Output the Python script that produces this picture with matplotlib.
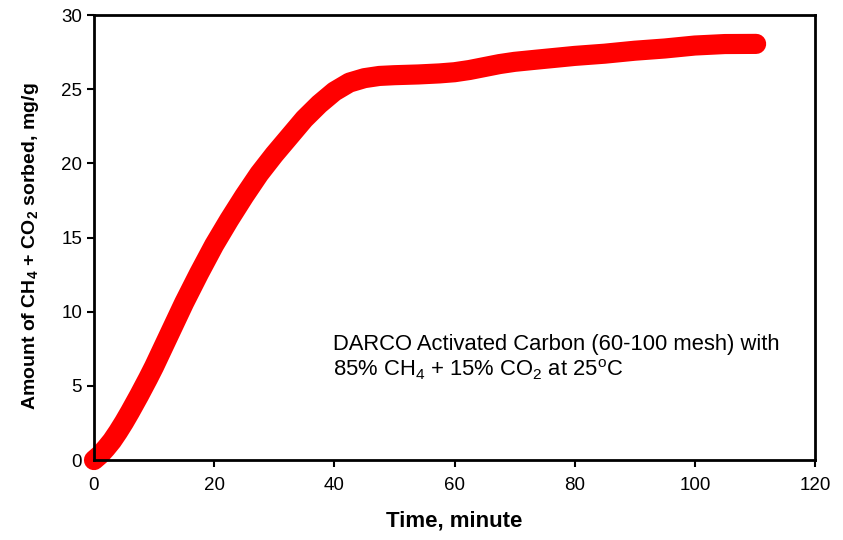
import matplotlib
matplotlib.use('Agg')
import matplotlib.pyplot as plt

# sorption uptake
time_min = [0, 1, 2, 3, 4, 5, 6, 7.5, 9, 10, 12.5, 15, 17.5, 20, 22.5, 25, 27.5, 30,
            32.5, 35, 37.5, 40, 42.5, 45, 47.5, 50, 54, 57.5, 60, 62.5, 65, 67.5,
            70, 73.7, 77.5, 80, 85, 90, 95, 100, 105, 110.2]
amount = [0, 0.35, 0.8, 1.3, 1.9, 2.55, 3.25, 4.35, 5.5, 6.3, 8.45, 10.6, 12.6, 14.5,
          16.2, 17.8, 19.3, 20.6, 21.8, 23.0, 24.0, 24.85, 25.45, 25.75, 25.9, 25.95,
          26.0, 26.07, 26.15, 26.3, 26.5, 26.7, 26.85, 27.0, 27.15, 27.25, 27.4,
          27.6, 27.75, 27.95, 28.05, 28.06]

x_ticks = [0, 20, 40, 60, 80, 100, 120]
y_ticks = [0, 5, 10, 15, 20, 25, 30]

plt.rcParams['font.family'] = ['Liberation Sans', 'DejaVu Sans']
plt.rcParams['mathtext.fontset'] = 'custom'
plt.rcParams['mathtext.rm'] = 'Liberation Sans'
plt.rcParams['mathtext.bf'] = 'Liberation Sans:bold'

fig = plt.figure(figsize=(8.43, 5.40), dpi=100)
ax = fig.add_axes([0.1115, 0.148, 0.8553, 0.824])

ax.plot(time_min, amount, color='#ff0000', linewidth=14.5,
        solid_capstyle='round', solid_joinstyle='round', clip_on=False)

ax.set_xlim(0, 120)
ax.set_ylim(0, 30)
ax.set_xticks(x_ticks)
ax.set_yticks(y_ticks)
ax.tick_params(direction='out', length=5, width=1.5, labelsize=13.5, colors='black')
ax.tick_params(axis='x', pad=7)
for s in ax.spines.values():
    s.set_linewidth(2)

ax.set_xlabel('Time, minute', fontsize=16, fontweight='bold', labelpad=12)
ax.set_ylabel(r'Amount of CH$_\mathbf{4}$ + CO$_\mathbf{2}$ sorbed, mg/g',
              fontsize=14, fontweight='bold')
ax.yaxis.set_label_coords(-0.074, 0.48)

ax.text(39.8, 6.9, 'DARCO Activated Carbon (60-100 mesh) with\n'
        r'85% CH$_4$ + 15% CO$_2$ at 25$^{\rm o}$C',
        fontsize=15.8, ha='left', va='center', linespacing=1.15)

fig.savefig('out.png', dpi=100)
